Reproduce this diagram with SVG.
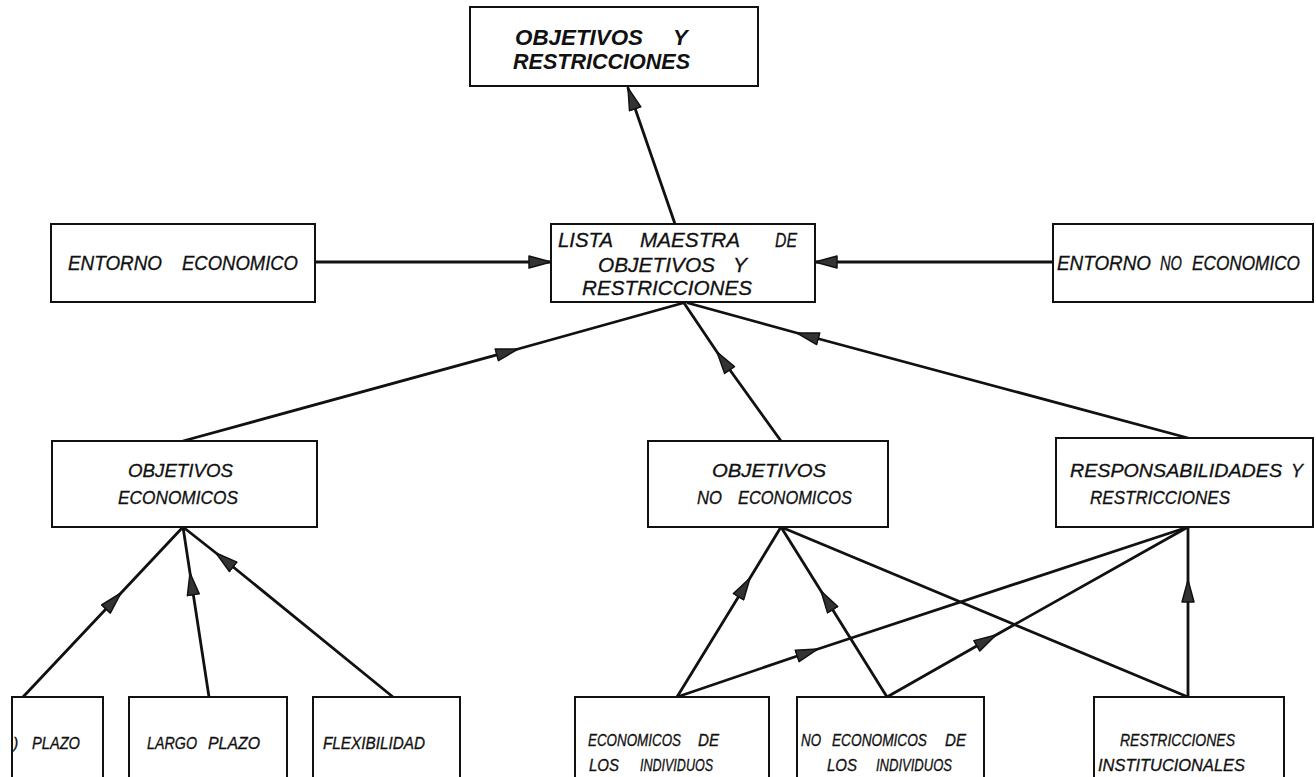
<svg xmlns="http://www.w3.org/2000/svg" width="1316" height="777" viewBox="0 0 1316 777">
<style>
  .box { fill: #ffffff; stroke: #111111; stroke-width: 2; }
  .con { fill: none; stroke: #111111; stroke-width: 2.8; stroke-linecap: round; }
  .t { font-family: "Liberation Sans", Arial, sans-serif; font-style: italic; fill: #111111; stroke: #111111; stroke-width: 0.3; }
  .tb { font-weight: bold; font-size: 22px; stroke-width: 0; }
  .t21 { font-size: 21px; }
  .t20 { font-size: 20px; }
  .t18 { font-size: 18px; }
  .t16 { font-size: 16px; }
</style>
<defs>
  <marker id="ah" viewBox="0 0 24 14" refX="23" refY="7" markerWidth="24" markerHeight="14" markerUnits="userSpaceOnUse" orient="auto">
    <path d="M1,1 L23,7 L1,13 z" fill="#333333" stroke="#111111" stroke-width="1.5" stroke-linejoin="round"/>
  </marker>
</defs>
<rect width="1316" height="777" fill="#ffffff"/>

<g id="connectors">
  <path class="con" d="M315,262 L551,262" marker-end="url(#ah)"/>
  <path class="con" d="M1053,262 L815,262" marker-end="url(#ah)"/>
  <path class="con" d="M675,224 L628,88" marker-end="url(#ah)"/>
  <path class="con" d="M183,441 L518,349 L683,303" marker-mid="url(#ah)"/>
  <path class="con" d="M781,441 L717,352 L684,303" marker-mid="url(#ah)"/>
  <path class="con" d="M1188,438 L797,333 L688,303" marker-mid="url(#ah)"/>
  <path class="con" d="M23,697 L121,593 L183,527" marker-mid="url(#ah)"/>
  <path class="con" d="M209,697 L190,573 L183,527" marker-mid="url(#ah)"/>
  <path class="con" d="M393,697 L216,553 L183,527" marker-mid="url(#ah)"/>
  <path class="con" d="M677,697 L750,578 L781,527" marker-mid="url(#ah)"/>
  <path class="con" d="M887,697 L821,591 L781,527" marker-mid="url(#ah)"/>
  <path class="con" d="M1188,697 L781,527"/>
  <path class="con" d="M677,697 L818,649 L1188,527" marker-mid="url(#ah)"/>
  <path class="con" d="M887,697 L996,635 L1188,527" marker-mid="url(#ah)"/>
  <path class="con" d="M1188,697 L1188,580 L1188,527" marker-mid="url(#ah)"/>
</g>

<g id="n-objetivos-restricciones">
  <rect class="box" x="470" y="7" width="288" height="79"/>
  <text class="t tb" y="45"><tspan x="515" textLength="128" lengthAdjust="spacingAndGlyphs">OBJETIVOS</tspan><tspan x="673">Y</tspan></text>
  <text class="t tb" x="513" y="69" textLength="177" lengthAdjust="spacingAndGlyphs">RESTRICCIONES</text>
</g>

<g id="n-lista-maestra">
  <rect class="box" x="551" y="224" width="264" height="78"/>
  <text class="t t21" y="247"><tspan x="558" textLength="55" lengthAdjust="spacingAndGlyphs">LISTA</tspan><tspan x="640" textLength="100" lengthAdjust="spacingAndGlyphs">MAESTRA</tspan><tspan x="775" textLength="22" lengthAdjust="spacingAndGlyphs">DE</tspan></text>
  <text class="t t21" y="272"><tspan x="598" textLength="117" lengthAdjust="spacingAndGlyphs">OBJETIVOS</tspan><tspan x="733">Y</tspan></text>
  <text class="t t21" x="582" y="295" textLength="170" lengthAdjust="spacingAndGlyphs">RESTRICCIONES</text>
</g>

<g id="n-entorno-economico">
  <rect class="box" x="51" y="224" width="264" height="78"/>
  <text class="t t20" y="270"><tspan x="68" textLength="94" lengthAdjust="spacingAndGlyphs">ENTORNO</tspan><tspan x="182" textLength="116" lengthAdjust="spacingAndGlyphs">ECONOMICO</tspan></text>
</g>

<g id="n-entorno-no-economico">
  <rect class="box" x="1053" y="224" width="260" height="78"/>
  <text class="t t20" y="270"><tspan x="1057" textLength="94" lengthAdjust="spacingAndGlyphs">ENTORNO</tspan><tspan x="1160" textLength="22" lengthAdjust="spacingAndGlyphs">NO</tspan><tspan x="1192" textLength="108" lengthAdjust="spacingAndGlyphs">ECONOMICO</tspan></text>
</g>

<g id="n-objetivos-economicos">
  <rect class="box" x="52" y="441" width="265" height="86"/>
  <text class="t t18" x="128" y="477" textLength="105" lengthAdjust="spacingAndGlyphs">OBJETIVOS</text>
  <text class="t t18" x="118" y="504" textLength="120" lengthAdjust="spacingAndGlyphs">ECONOMICOS</text>
</g>

<g id="n-objetivos-no-economicos">
  <rect class="box" x="648" y="441" width="240" height="86"/>
  <text class="t t18" x="712" y="477" textLength="114" lengthAdjust="spacingAndGlyphs">OBJETIVOS</text>
  <text class="t t18" y="504"><tspan x="697" textLength="25" lengthAdjust="spacingAndGlyphs">NO</tspan><tspan x="738" textLength="114" lengthAdjust="spacingAndGlyphs">ECONOMICOS</tspan></text>
</g>

<g id="n-responsabilidades">
  <rect class="box" x="1056" y="438" width="257" height="89"/>
  <text class="t t18" y="477"><tspan x="1070" textLength="212" lengthAdjust="spacingAndGlyphs">RESPONSABILIDADES</tspan><tspan x="1291">Y</tspan></text>
  <text class="t t18" x="1090" y="504" textLength="140" lengthAdjust="spacingAndGlyphs">RESTRICCIONES</text>
</g>

<g id="n-corto-plazo">
  <rect class="box" x="12" y="697" width="91" height="90"/>
  <text class="t t16" y="749"><tspan x="13">)</tspan><tspan x="32" textLength="48" lengthAdjust="spacingAndGlyphs">PLAZO</tspan></text>
</g>

<g id="n-largo-plazo">
  <rect class="box" x="129" y="697" width="158" height="90"/>
  <text class="t t16" y="749"><tspan x="147" textLength="50" lengthAdjust="spacingAndGlyphs">LARGO</tspan><tspan x="208" textLength="52" lengthAdjust="spacingAndGlyphs">PLAZO</tspan></text>
</g>

<g id="n-flexibilidad">
  <rect class="box" x="313" y="697" width="147" height="90"/>
  <text class="t t16" x="323" y="749" textLength="102" lengthAdjust="spacingAndGlyphs">FLEXIBILIDAD</text>
</g>

<g id="n-economicos-individuos">
  <rect class="box" x="575" y="697" width="194" height="90"/>
  <text class="t t16" y="746"><tspan x="588" textLength="93" lengthAdjust="spacingAndGlyphs">ECONOMICOS</tspan><tspan x="698" textLength="21" lengthAdjust="spacingAndGlyphs">DE</tspan></text>
  <text class="t t16" y="771"><tspan x="589" textLength="30" lengthAdjust="spacingAndGlyphs">LOS</tspan><tspan x="640" textLength="73" lengthAdjust="spacingAndGlyphs">INDIVIDUOS</tspan></text>
</g>

<g id="n-no-economicos-individuos">
  <rect class="box" x="797" y="697" width="187" height="90"/>
  <text class="t t16" y="746"><tspan x="801" textLength="20" lengthAdjust="spacingAndGlyphs">NO</tspan><tspan x="832" textLength="95" lengthAdjust="spacingAndGlyphs">ECONOMICOS</tspan><tspan x="945" textLength="21" lengthAdjust="spacingAndGlyphs">DE</tspan></text>
  <text class="t t16" y="771"><tspan x="827" textLength="30" lengthAdjust="spacingAndGlyphs">LOS</tspan><tspan x="876" textLength="76" lengthAdjust="spacingAndGlyphs">INDIVIDUOS</tspan></text>
</g>

<g id="n-restricciones-institucionales">
  <rect class="box" x="1094" y="697" width="190" height="90"/>
  <text class="t t16" x="1120" y="746" textLength="115" lengthAdjust="spacingAndGlyphs">RESTRICCIONES</text>
  <text class="t t16" x="1098" y="771" textLength="147" lengthAdjust="spacingAndGlyphs">INSTITUCIONALES</text>
</g>
</svg>
